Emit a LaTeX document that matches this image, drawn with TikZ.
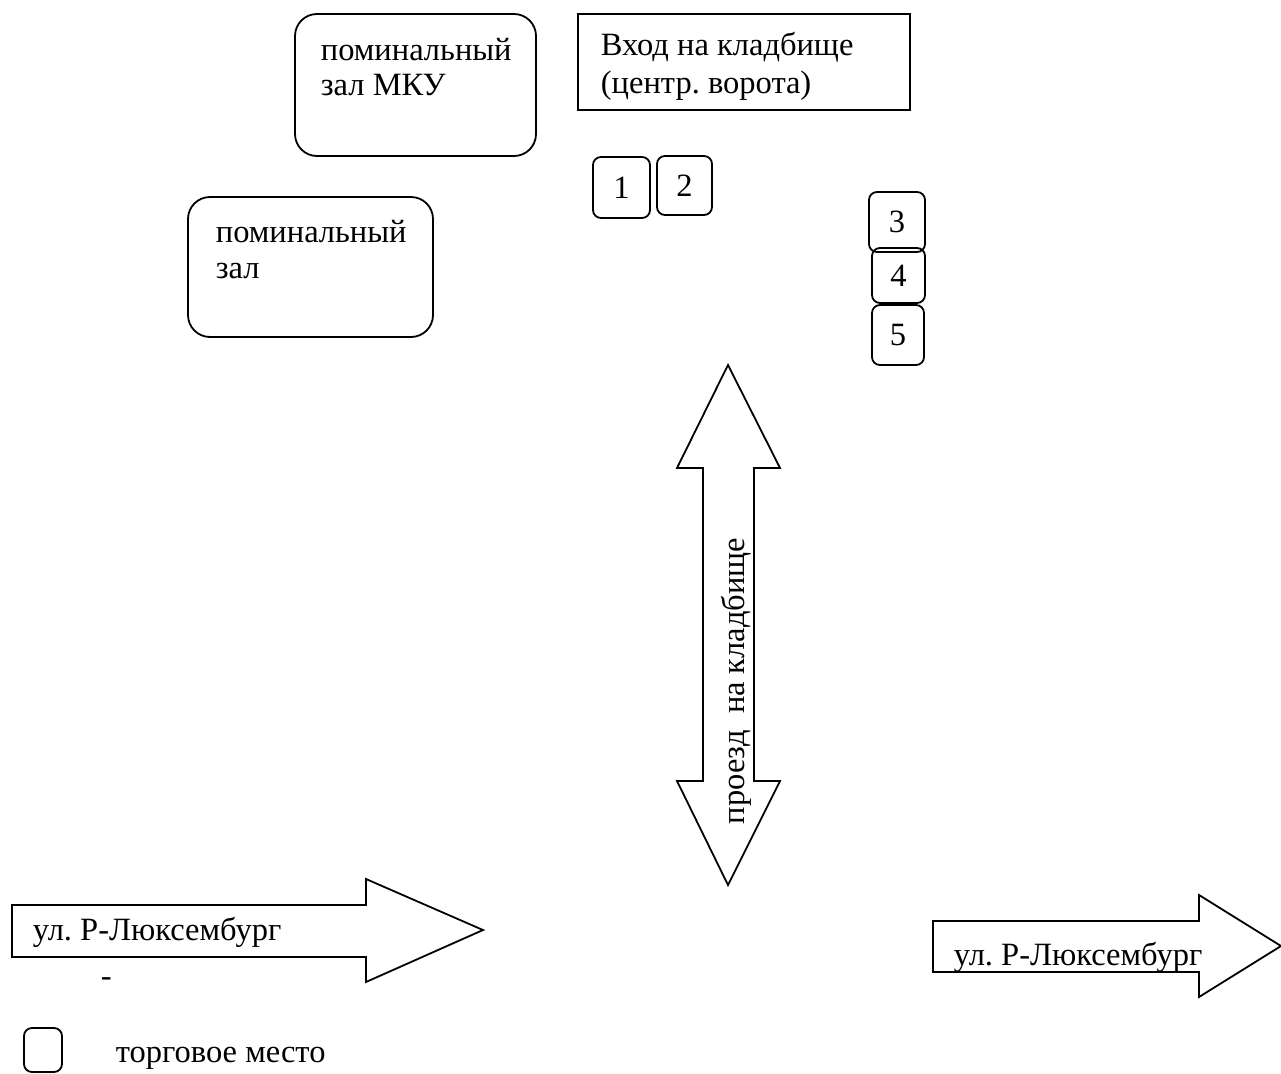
\documentclass[tikz,border=0pt]{standalone}
\usepackage{fontspec}
\setmainfont{LiberationSerif-Regular.ttf}
\newfontfamily\mapfont{LiberationSerif-Regular.ttf}
\frenchspacing
\begin{document}
\begin{tikzpicture}[x=1pt, y=-1pt, line width=1.8pt,
    lbl/.style={anchor=base west, inner sep=0pt, font=\mapfont\fontsize{32.5}{36}\selectfont},
    stall/.style={draw, rounded corners=8pt, inner sep=0pt, font=\mapfont\fontsize{32.5}{36}\selectfont}]
    \useasboundingbox (0,0) rectangle (1281,1073);

    \draw[rounded corners=22pt] (295,14) rectangle (536,156);
    \node[lbl] (mkuA) at (320,60) {поминальный};
    \node[lbl] (mkuB) at (320,95) {зал МКУ};

    \draw (578,14) rectangle (910,110);
    \node[lbl] (gateA) at (600,56) {Вход на кладбище};
    \node[lbl] (gateB) at (600,93) {(центр. ворота)};

    \draw[rounded corners=22pt] (188,197) rectangle (433,337);
    \node[lbl] (hallA) at (215,242) {поминальный};
    \node[lbl] (hallB) at (215,278) {зал};

    \node[stall, minimum width=57pt, minimum height=61pt] (s1) at (621.5,187.5) {1};
    \node[stall, minimum width=55pt, minimum height=59pt] (s2) at (684.5,185.5) {2};
    \node[stall, minimum width=56pt, minimum height=60pt] (s3) at (897,222) {3};
    \node[stall, minimum width=53pt, minimum height=55pt] (s4) at (898.5,275.5) {4};
    \node[stall, minimum width=52pt, minimum height=60pt] (s5) at (898,335) {5};

    % proezd
    \draw (728,365) -- (780,468) -- (754,468) -- (754,781) -- (780,781) -- (728,885)
        -- (677,781) -- (703,781) -- (703,468) -- (677,468) -- cycle;
    \node[lbl, rotate=90] (road) at (744,825) {проезд\ \ на кладбище};

    % ulica
    \draw (12,905) -- (366,905) -- (366,879) -- (483,930) -- (366,982) -- (366,957) -- (12,957) -- cycle;
    \node[lbl] (streetL) at (32,940) {ул. Р-Люксембург};
    \node[lbl] (dash) at (100,986) {-};

    \draw (933,921) -- (1199,921) -- (1199,895) -- (1281,946) -- (1199,997) -- (1199,972) -- (933,972) -- cycle;
    \node[lbl] (streetR) at (953,965) {ул. Р-Люксембург};

    \draw[rounded corners=8pt] (24,1028) rectangle (62,1072);
    \node[lbl] (legend) at (115,1062) {торговое место};
\end{tikzpicture}
\end{document}
